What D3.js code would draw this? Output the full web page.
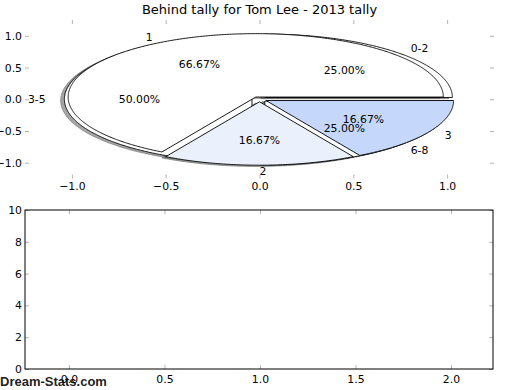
<!DOCTYPE html>
<html><head><meta charset="utf-8">
<script src="https://cdn.jsdelivr.net/npm/d3@7"></script>
<style>
body{margin:0;background:#fff}
svg{display:block}
text{font-family:"DejaVu Sans",sans-serif;fill:#000}
</style>
</head><body>
<svg id="c" width="520" height="390"></svg>
<script>
// ---- data ----
const title = "Behind tally for Tom Lee - 2013 tally";
const outerLabels = ["0-2", "3-5", "6-8"];
const outerValues = [1, 2, 1];
const innerLabels = ["1", "2", "3"];
const innerValues = [4, 1, 1];
const pieTicks = [-1.0, -0.5, 0.0, 0.5, 1.0];
const barXTicks = [0.0, 0.5, 1.0, 1.5, 2.0];
const barYTicks = [0, 2, 4, 6, 8, 10];
const watermark = "Dream-Stats.com";

// ---- styles ----
const outerColors = ["#ffffff", "#ffffff", "#ffffff"];
const innerColors = ["#ffffff", "#eaf0fc", "#c5d8fb"];
const explode = 0.04;
const shadowOffset = -0.02;
const FS = 10.83;

const svg = d3.select("#c");

// ---- scales ----
const px = d3.scaleLinear().domain([-1.25, 1.25]).range([25, 494]);
const py = d3.scaleLinear().domain([-1.25, 1.25]).range([178.5, 20]);
const bx = d3.scaleLinear().domain([-0.23, 2.22]).range([25, 493]);
const by = d3.scaleLinear().domain([0, 10]).range([369, 210]);

const pieGen = d3.pie().sort(null).value(d => d);

function wedgePath(cx, cy, a0, a1, ox, oy) {
  const n = Math.max(2, Math.ceil((a1 - a0) / (Math.PI / 360)));
  const pts = [[cx, cy]];
  for (let i = 0; i <= n; i++) {
    const t = a0 + (a1 - a0) * i / n;
    pts.push([cx + Math.cos(t), cy + Math.sin(t)]);
  }
  return d3.line().x(d => px(d[0] + ox)).y(d => py(d[1] + oy))(pts) + "Z";
}

function buildPie(values, labels, colors) {
  return pieGen(values).map((a, i) => {
    const mid = (a.startAngle + a.endAngle) / 2;
    return {
      a0: a.startAngle, a1: a.endAngle, mid,
      cx: explode * Math.cos(mid), cy: explode * Math.sin(mid),
      label: labels[i], color: colors[i],
      pct: (100 * a.value / d3.sum(values)).toFixed(2) + "%"
    };
  });
}

const pieA = buildPie(outerValues, outerLabels, outerColors);
const pieB = buildPie(innerValues, innerLabels, innerColors);
const all = pieA.concat(pieB);

const gPie = svg.append("g");

// shadows
gPie.selectAll("path.shadow").data(all).join("path")
  .attr("class", "shadow")
  .attr("d", d => wedgePath(d.cx, d.cy, d.a0, d.a1, shadowOffset, shadowOffset))
  .attr("fill", d => { const c = d3.rgb(d.color); return d3.rgb(c.r * 0.3, c.g * 0.3, c.b * 0.3); })
  .attr("fill-opacity", 0.5)
  .attr("stroke", d => { const c = d3.rgb(d.color); return d3.rgb(c.r * 0.3, c.g * 0.3, c.b * 0.3); })
  .attr("stroke-opacity", 0.5)
  .attr("stroke-width", 0.9);

// wedges
gPie.selectAll("path.wedge").data(all).join("path")
  .attr("class", "wedge")
  .attr("d", d => wedgePath(d.cx, d.cy, d.a0, d.a1, 0, 0))
  .attr("fill", d => d.color)
  .attr("stroke", "#000")
  .attr("stroke-width", 0.9)
  .attr("stroke-linejoin", "miter");

// labels
function addTexts(pie) {
  pie.forEach(d => {
    const c = Math.cos(d.mid), s = Math.sin(d.mid);
    gPie.append("text")
      .attr("x", px(d.cx + 1.1 * c)).attr("y", py(d.cy + 1.1 * s))
      .attr("dy", "0.36em")
      .attr("text-anchor", c > -1e-9 ? "start" : "end")
      .style("font-size", FS + "px")
      .text(d.label);
    gPie.append("text")
      .attr("x", px(d.cx + 0.6 * c)).attr("y", py(d.cy + 0.6 * s))
      .attr("dy", "0.36em")
      .attr("text-anchor", "middle")
      .style("font-size", FS + "px")
      .text(d.pct);
  });
}
addTexts(pieA);
addTexts(pieB);

// ---- axes helpers ----
const fmt1 = d3.format(".1f");
function styleAxis(g, showLabels) {
  g.select(".domain").remove();
  g.selectAll(".tick line").attr("stroke", "#b4b4b4").attr("stroke-width", 1);
  g.selectAll(".tick text").style("font-size", FS + "px")
    .style("font-family", '"DejaVu Sans",sans-serif').attr("fill", "#000");
  if (!showLabels) g.selectAll(".tick text").remove();
}

// top (pie) axes
svg.append("g").attr("transform", "translate(0,178.5)")
  .call(d3.axisBottom(px).tickValues(pieTicks).tickFormat(fmt1).tickSize(-4).tickPadding(3.4))
  .call(g => styleAxis(g, true));
svg.append("g").attr("transform", "translate(0,20)")
  .call(d3.axisTop(px).tickValues(pieTicks).tickSize(-4))
  .call(g => styleAxis(g, false));
svg.append("g").attr("transform", "translate(25,0)")
  .call(d3.axisLeft(py).tickValues(pieTicks).tickFormat(fmt1).tickSize(-4).tickPadding(3))
  .call(g => styleAxis(g, true));
svg.append("g").attr("transform", "translate(494,0)")
  .call(d3.axisRight(py).tickValues(pieTicks).tickSize(-4))
  .call(g => styleAxis(g, false));

// title
svg.append("text").attr("x", (px.range()[0] + px.range()[1]) / 2).attr("y", 14)
  .attr("text-anchor", "middle").style("font-size", "13px").text(title);

// bottom axes
svg.append("g").attr("transform", "translate(0,369)")
  .call(d3.axisBottom(bx).tickValues(barXTicks).tickFormat(fmt1).tickSize(-4).tickPadding(6.8))
  .call(g => styleAxis(g, true));
svg.append("g").attr("transform", "translate(0,210)")
  .call(d3.axisTop(bx).tickValues(barXTicks).tickSize(-4))
  .call(g => styleAxis(g, false));
svg.append("g").attr("transform", "translate(25,0)")
  .call(d3.axisLeft(by).tickValues(barYTicks).tickFormat(d3.format("d")).tickSize(-4).tickPadding(3))
  .call(g => styleAxis(g, true));
svg.append("g").attr("transform", "translate(493,0)")
  .call(d3.axisRight(by).tickValues(barYTicks).tickSize(-4))
  .call(g => styleAxis(g, false));
svg.append("rect")
  .attr("x", bx.range()[0]).attr("y", by.range()[1])
  .attr("width", bx.range()[1] - bx.range()[0]).attr("height", by.range()[0] - by.range()[1])
  .attr("fill", "none").attr("stroke", "#000").attr("stroke-width", 1);

// watermark
svg.append("text").attr("x", 0).attr("y", 386)
  .style("font-family", '"Liberation Sans",Arial,sans-serif').style("font-size", "13px")
  .style("font-weight", "bold")
  .attr("fill", "#a0a0a0").attr("fill-opacity", 0.9).text(watermark);
</script>
</body></html>
